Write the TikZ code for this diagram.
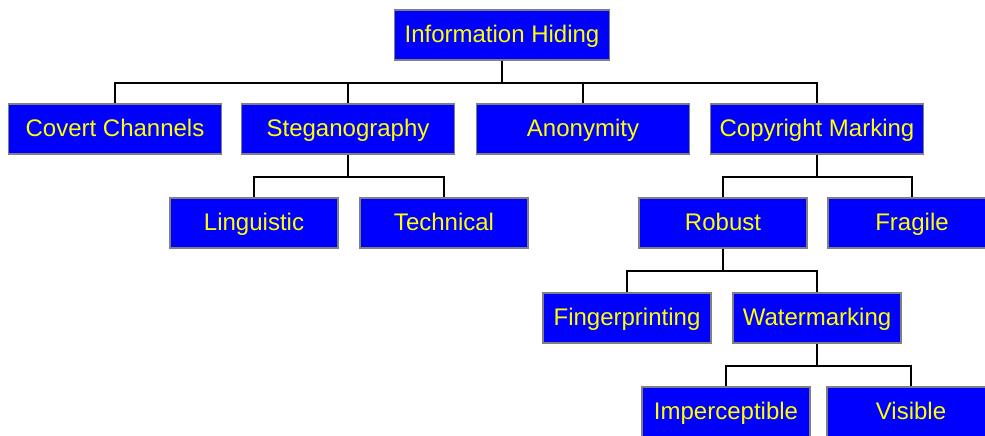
\documentclass[tikz,border=0pt]{standalone}
\usepackage{fontspec}
\setmainfont{Liberation Sans}
\usetikzlibrary{
	calc,
	positioning
}
\definecolor{boxblue}{RGB}{0,0,255}
\definecolor{boxtext}{RGB}{255,255,0}
\definecolor{boxedge}{RGB}{128,128,128}
\tikzset{every path/.append style={line width=1.8pt}}
\tikzset{
	box/.style={rectangle,fill=boxblue,draw=boxedge,line width=1.5pt,
		text=boxtext,inner sep=0pt,minimum height=50pt,
		text height=19pt,text depth=4pt,
		font=\fontsize{24}{28}\selectfont},
	wide/.style={box,minimum width=213pt},
	narrow/.style={box,minimum width=168pt}
}
\newcommand{\tikzLink}[3][22]{\draw (#2.south) -- ++(0,#1) -| (#3.north);}

\begin{document}
\begin{tikzpicture}[x=1pt,y=-1pt]
	\useasboundingbox (0,0) rectangle (985,436);
	
	\node (ih) at (502,35) [box,minimum width=215pt] {Information Hiding};
	
	\node (cc) at (115,129) [wide] {Covert Channels};
	\node (st) at (348,129) [wide] {Steganography};
	\node (an) at (583,129) [wide] {Anonymity};
	\node (cm) at (817,129) [wide] {Copyright Marking};
	
	\node (li) at (254,223) [narrow] {Linguistic};
	\node (te) at (444,223) [narrow] {Technical};
	\node (ro) at (723,223) [narrow] {Robust};
	\node (fr) at (912,223) [narrow] {Fragile};
	
	\node (fp) at (627,318) [narrow] {Fingerprinting};
	\node (wm) at (817,318) [narrow] {Watermarking};
	
	\node (im) at (726,412) [narrow] {Imperceptible};
	\node (vi) at (911,412) [narrow] {Visible};
	
	\tikzLink{ih}{cc}
	\tikzLink{ih}{st}
	\tikzLink{ih}{an}
	\tikzLink{ih}{cm}
	
	\tikzLink{st}{li}
	\tikzLink{st}{te}
	\tikzLink{cm}{ro}
	\tikzLink{cm}{fr}
	
	\tikzLink{ro}{fp}
	\tikzLink{ro}{wm}
	
	\tikzLink{wm}{im}
	\tikzLink{wm}{vi}
\end{tikzpicture}
\end{document}
